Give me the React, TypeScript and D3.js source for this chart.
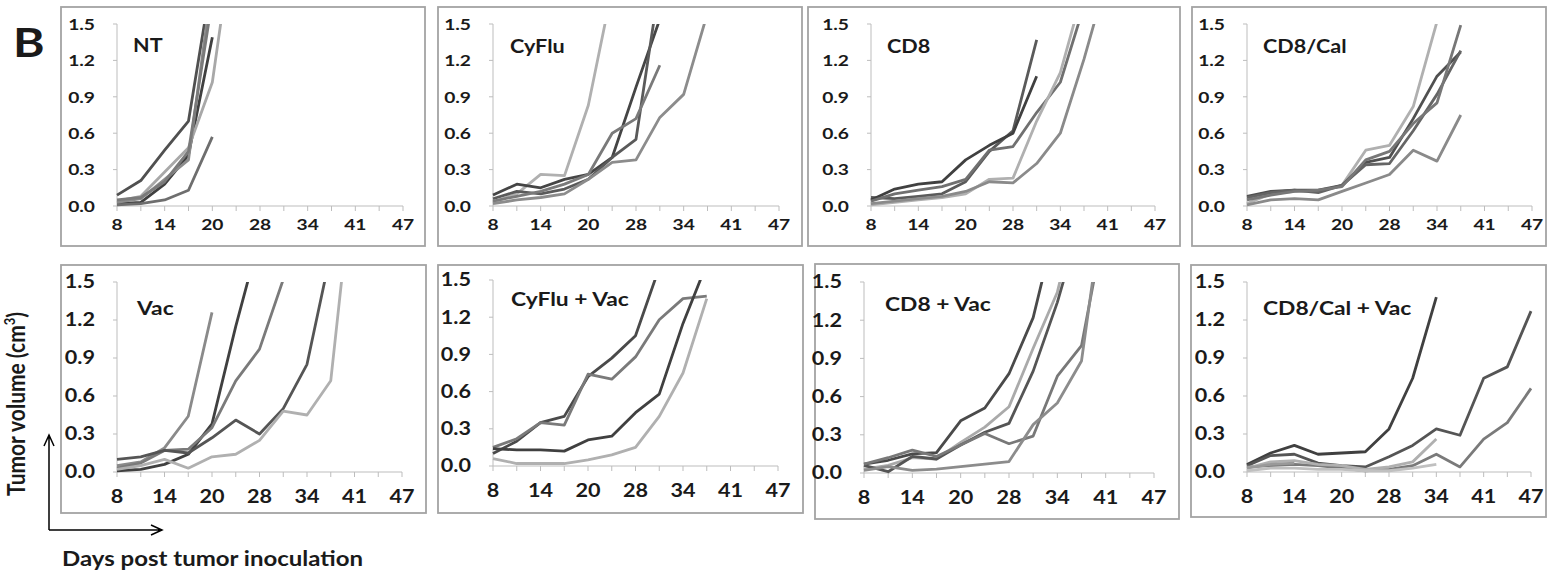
import React from 'react';
import * as d3 from 'd3';

// x categories (Excel category axis, every other label shown)
const days = [8, 11, 14, 17, 20, 24, 28, 31, 34, 38, 41, 44, 47];
const dayLabels = [8, 14, 20, 28, 34, 41, 47];
const yTicks = [0, 0.3, 0.6, 0.9, 1.2, 1.5];
const titles = ['NT', 'CyFlu', 'CD8', 'CD8/Cal', 'Vac', 'CyFlu + Vac', 'CD8 + Vac', 'CD8/Cal + Vac'];

// tumor volume per mouse, cm3 (values above 1.5 get clipped by the plot area)
const nt = [
  [0.09, 0.21, 0.46, 0.70, 1.90],
  [0.02, 0.03, 0.18, 0.42, 1.39],
  [0.01, 0.02, 0.05, 0.13, 0.57],
  [0.04, 0.08, 0.28, 0.48, 1.02, 2.40],
  [0.03, 0.06, 0.22, 0.38, 1.85],
  [0.05, 0.07, 0.20, 0.45, 1.70],
];
const cyflu = [
  [0.03, 0.10, 0.26, 0.25, 0.83, 1.79],
  [0.09, 0.18, 0.15, 0.22, 0.26, 0.40, 0.98, 1.54],
  [0.06, 0.12, 0.10, 0.14, 0.22, 0.40, 0.55, 1.85],
  [0.04, 0.08, 0.12, 0.18, 0.26, 0.60, 0.72, 1.16],
  [0.02, 0.05, 0.07, 0.10, 0.22, 0.36, 0.38, 0.73, 0.92, 1.59],
];
const cd8 = [
  [0.07, 0.06, 0.08, 0.10, 0.20, 0.45, 0.62, 1.37],
  [0.05, 0.14, 0.18, 0.20, 0.38, 0.50, 0.60, 1.07],
  [0.04, 0.10, 0.13, 0.16, 0.22, 0.46, 0.49, 0.77, 1.02, 1.65],
  [0.01, 0.03, 0.05, 0.07, 0.10, 0.22, 0.23, 0.70, 1.10, 1.80],
  [0.02, 0.04, 0.06, 0.08, 0.12, 0.20, 0.19, 0.35, 0.60, 1.21, 1.90],
];
const cd8cal = [
  [0.02, 0.10, 0.12, 0.12, 0.17, 0.46, 0.50, 0.82, 1.52],
  [0.01, 0.05, 0.06, 0.05, 0.12, 0.19, 0.26, 0.46, 0.37, 0.75],
  [0.08, 0.12, 0.13, 0.13, 0.17, 0.36, 0.40, 0.72, 1.07, 1.27],
  [0.07, 0.11, 0.13, 0.11, 0.17, 0.34, 0.35, 0.62, 0.92, 1.28],
  [0.05, 0.09, 0.12, 0.13, 0.16, 0.38, 0.45, 0.68, 0.85, 1.49],
];
const vac = [
  [0.05, 0.08, 0.19, 0.44, 1.26],
  [0.01, 0.02, 0.06, 0.14, 0.38, 1.15, 1.85],
  [0.03, 0.07, 0.17, 0.18, 0.35, 0.72, 0.97, 1.52],
  [0.10, 0.12, 0.17, 0.15, 0.27, 0.41, 0.30, 0.50, 0.85, 1.73],
  [0.02, 0.05, 0.10, 0.03, 0.12, 0.14, 0.25, 0.48, 0.45, 0.72, 2.45],
];
const cyfluVac = [
  [0.10, 0.20, 0.35, 0.40, 0.72, 0.87, 1.05, 1.60],
  [0.15, 0.22, 0.35, 0.33, 0.74, 0.70, 0.88, 1.18, 1.35, 1.37],
  [0.14, 0.13, 0.13, 0.12, 0.21, 0.24, 0.43, 0.58, 1.15, 1.63],
  [0.06, 0.02, 0.02, 0.02, 0.05, 0.09, 0.15, 0.40, 0.75, 1.35],
];
const cd8Vac = [
  [0.07, 0.10, 0.15, 0.16, 0.41, 0.51, 0.78, 1.22, 2.00],
  [0.03, 0.06, 0.12, 0.11, 0.24, 0.36, 0.52, 0.98, 1.42, 2.20],
  [0.06, 0.01, 0.13, 0.11, 0.22, 0.32, 0.39, 0.80, 1.34, 2.00],
  [0.07, 0.12, 0.18, 0.13, 0.22, 0.31, 0.23, 0.29, 0.76, 1.00, 2.00],
  [0.02, 0.05, 0.02, 0.03, 0.05, 0.07, 0.09, 0.38, 0.55, 0.88, 2.25],
];
const cd8calVac = [
  [0.06, 0.15, 0.21, 0.14, 0.15, 0.16, 0.34, 0.74, 1.38],
  [0.05, 0.13, 0.14, 0.07, 0.05, 0.04, 0.12, 0.21, 0.34, 0.29, 0.74, 0.83, 1.27],
  [0.04, 0.05, 0.06, 0.05, 0.03, 0.01, 0.02, 0.05, 0.14, 0.04, 0.26, 0.39, 0.66],
  [0.03, 0.08, 0.09, 0.06, 0.05, 0.02, 0.04, 0.08, 0.26],
  [0.03, 0.06, 0.07],
  [0.01, 0.03, 0.03, 0.02, 0.02, 0.01, 0.01, 0.03, 0.06],
];
const groups = [nt, cyflu, cd8, cd8cal, vac, cyfluVac, cd8Vac, cd8calVac];

// line shades, one per mouse
const shades = [
  ['#505050', '#404040', '#6e6e6e', '#a8a8a8', '#8c8c8c', '#7a7a7a'],
  ['#b0b0b0', '#454545', '#5a5a5a', '#7a7a7a', '#8c8c8c'],
  ['#5a5a5a', '#404040', '#707070', '#b0b0b0', '#8a8a8a'],
  ['#b0b0b0', '#8a8a8a', '#505050', '#656565', '#777777'],
  ['#8a8a8a', '#404040', '#7a7a7a', '#555555', '#b0b0b0'],
  ['#4a4a4a', '#7a7a7a', '#404040', '#b0b0b0'],
  ['#4a4a4a', '#aaaaaa', '#555555', '#787878', '#8c8c8c'],
  ['#404040', '#555555', '#7a7a7a', '#b0b0b0', '#999999', '#c0c0c0'],
];

// panel geometry: box [x0,y0,x1,y1], plot x range, plot y range (0 -> 1.5), title pos
const layout = [
  { box: [61, 7, 425, 246], x: [117, 403], y: [206, 24], title: [133, 52], row: 0 },
  { box: [438, 7, 802, 246], x: [493, 779], y: [206, 24], title: [510, 53], row: 0 },
  { box: [808, 7, 1180, 246], x: [871, 1155], y: [206, 24], title: [887, 53], row: 0 },
  { box: [1192, 7, 1546, 246], x: [1247, 1532], y: [206, 24], title: [1263, 53], row: 0 },
  { box: [61, 265, 426, 513], x: [117, 402], y: [472, 282], title: [137, 315], row: 1 },
  { box: [438, 265, 803, 513], x: [493, 778], y: [466, 280], title: [511, 306], row: 1 },
  { box: [815, 264, 1179, 519], x: [864, 1154], y: [473, 282], title: [885, 311], row: 1 },
  { box: [1191, 265, 1546, 517], x: [1247, 1531], y: [472, 282], title: [1263, 315], row: 1 },
];
const rowStyle = [
  { tick: 16, gap: 24, title: 18 },
  { tick: 18, gap: 31, title: 19 },
];

const SX = 1.2;
const FONT = 'Lato, "Open Sans", sans-serif';

function T({ x, y, size, anchor = 'start', rot = false, children }: any) {
  return (
    <text
      transform={`translate(${x},${y}) scale(${SX},1)${rot ? ' rotate(-90)' : ''}`}
      fontSize={size}
      fontWeight="bold"
      fontFamily={FONT}
      textAnchor={anchor}
      fill="#1a1a1a"
    >
      {children}
    </text>
  );
}

function Panel({ i }: { i: number }) {
  const L = layout[i];
  const rs = rowStyle[L.row];
  const x = d3.scalePoint<number>().domain(days).range(L.x as [number, number]);
  const y = d3.scaleLinear().domain([0, 1.5]).range(L.y);
  const line = d3
    .line<number>()
    .x((_, k) => x(days[k])!)
    .y((v) => y(v));
  const [bx0, by0, bx1, by1] = L.box;
  const x0 = L.x[0];
  const y0 = y(0);
  return (
    <g>
      <rect x={bx0} y={by0} width={bx1 - bx0} height={by1 - by0} fill="#fff" stroke="#a3a3a3" strokeWidth={1.8} />
      <clipPath id={`clip-${i}`}>
        <rect x={L.x[0] - 3} y={y(1.5)} width={L.x[1] - L.x[0] + 6} height={y0 - y(1.5) + 4} />
      </clipPath>
      {/* axes */}
      <line x1={x0} x2={x0} y1={y(0)} y2={y(1.5)} stroke="#bdbdbd" strokeWidth={1} />
      {yTicks.map((t) => (
        <g key={t}>
          <line x1={x0 - 4} x2={x0} y1={y(t)} y2={y(t)} stroke="#bdbdbd" strokeWidth={1} />
          <T x={x0 - 22} y={y(t) + rs.tick * 0.36} size={rs.tick} anchor="end">
            {t.toFixed(1)}
          </T>
        </g>
      ))}
      <line x1={L.x[0]} x2={L.x[1]} y1={y0} y2={y0} stroke="#bdbdbd" strokeWidth={1} />
      {days.map((d) => (
        <line key={d} x1={x(d)!} x2={x(d)!} y1={y0} y2={y0 + 5} stroke="#bdbdbd" strokeWidth={1} />
      ))}
      {dayLabels.map((d) => (
        <T key={d} x={x(d)!} y={y0 + rs.gap} size={rs.tick} anchor="middle">
          {d}
        </T>
      ))}
      <g clipPath={`url(#clip-${i})`}>
        {groups[i].map((s, k) => (
          <path key={k} d={line(s)!} fill="none" stroke={shades[i][k]} strokeWidth={2.8} strokeLinejoin="round" />
        ))}
      </g>
      <T x={L.title[0]} y={L.title[1]} size={rs.title}>
        {titles[i]}
      </T>
    </g>
  );
}

export default function App() {
  return (
    <svg
      width={1549}
      height={576}
      style={{ position: 'absolute', left: 0, top: 0, background: '#fff' }}
    >
      <T x={13} y={57} size={40}>B</T>
      {layout.map((_, i) => (
        <Panel key={i} i={i} />
      ))}
      <T x={25} y={404} size={21} anchor="middle" rot>
        Tumor volume (cm<tspan dy={-8} fontSize={13}>3</tspan>
        <tspan dy={8}>)</tspan>
      </T>
      {/* axis arrows */}
      <g stroke="#000" strokeWidth={1.5} fill="none">
        <path d="M49,530 V435 M44,446 L49,435 L54,446" />
        <path d="M49,530 H162 M151,525 L162,530 L151,535" />
      </g>
      <T x={62} y={566} size={20}>Days post tumor inoculation</T>
    </svg>
  );
}
